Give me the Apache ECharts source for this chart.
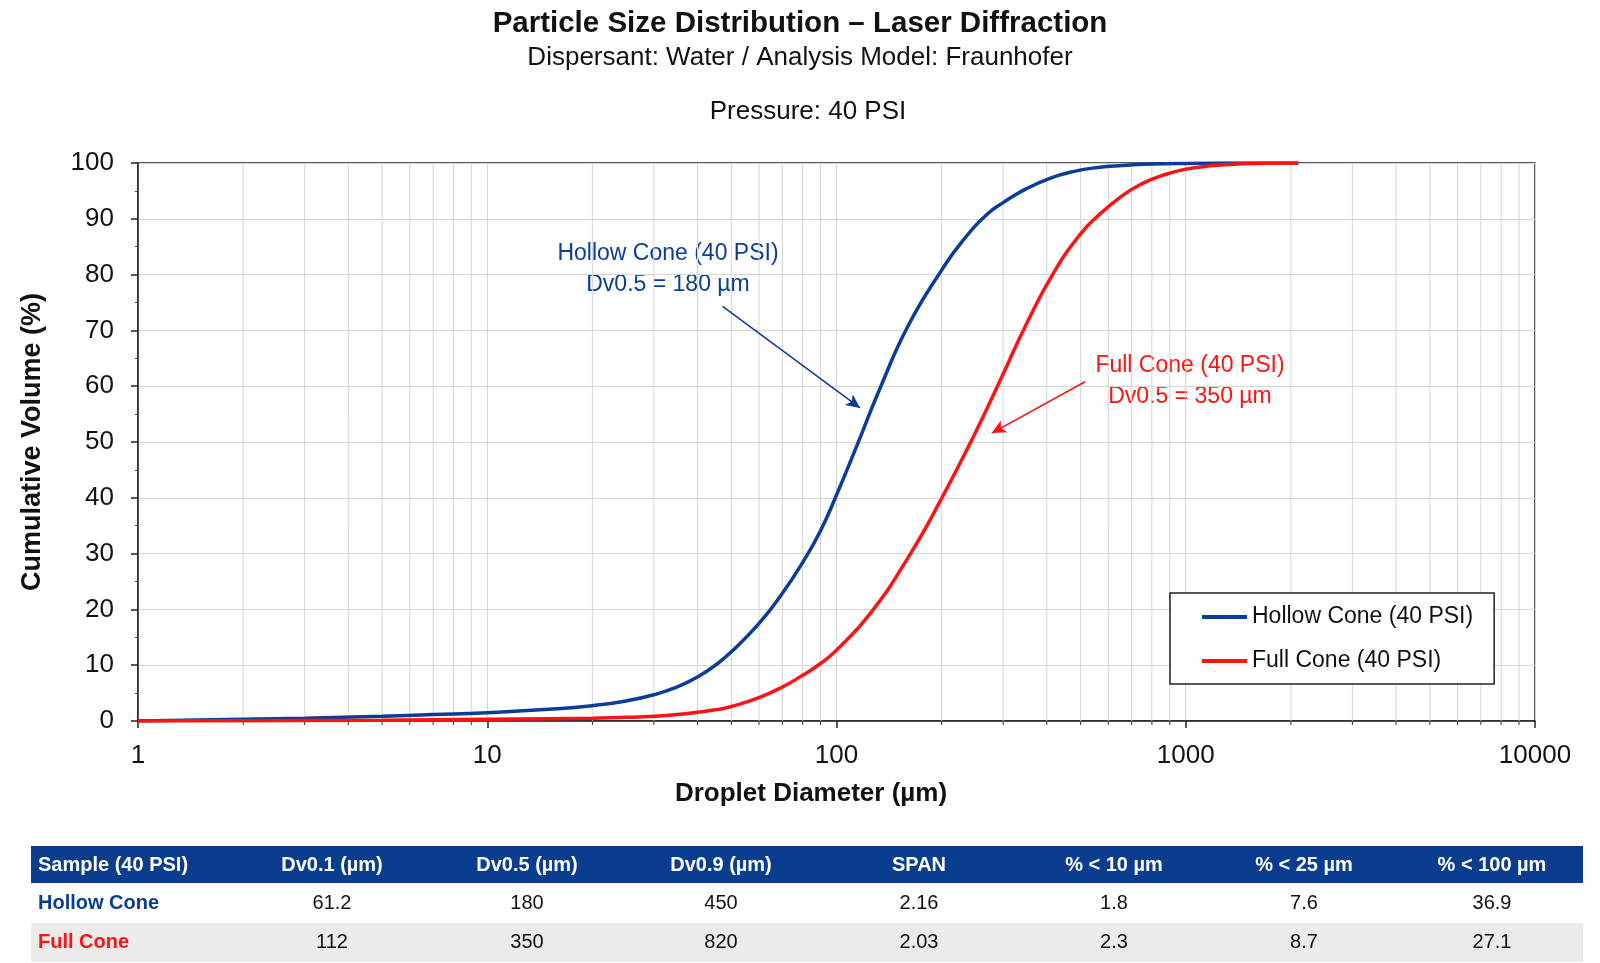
<!DOCTYPE html>
<html>
<head>
<meta charset="utf-8">
<title>Particle Size Distribution</title>
<script src="https://cdn.jsdelivr.net/npm/echarts@6/dist/echarts.min.js"></script>
<style>
  html, body { margin: 0; padding: 0; background: #fff; }
  #chart { width: 1600px; height: 963px; }
</style>
</head>
<body>
<div id="chart"></div>
<script>
// cumulative volume curves
var hollowSizes  = [1, 2, 3, 5, 7, 10, 15, 20, 25, 30, 35, 40, 45, 50, 60, 70, 80, 90, 100, 115, 133, 160, 200, 230, 270, 300, 350, 410, 475, 560, 660, 800, 1000, 1300, 2100];
var hollowVolume = [0, 0.3, 0.5, 0.85, 1.15, 1.5, 2.1, 2.75, 3.6, 4.7, 6.1, 7.9, 10, 12.4, 17.5, 22.9, 28.4, 34.1, 40.5, 49.7, 59.5, 70.7, 80.8, 86.1, 90.8, 92.9, 95.4, 97.3, 98.45, 99.2, 99.55, 99.8, 99.93, 100, 100];

var fullSizes  = [1, 2, 5, 10, 15, 20, 25, 30, 35, 40, 45, 50, 60, 70, 80, 90, 100, 125, 160, 200, 250, 300, 350, 420, 500, 560, 660, 750, 850, 1000, 1200, 1450, 1750, 2100];
var fullVolume = [0, 0.05, 0.15, 0.3, 0.4, 0.5, 0.65, 0.85, 1.15, 1.55, 2, 2.6, 4.2, 6.1, 8.2, 10.3, 12.7, 19.3, 29.2, 39.9, 51.7, 62.2, 71.2, 80.5, 87.3, 90.5, 94.2, 96.3, 97.7, 98.9, 99.55, 99.85, 99.97, 100];

// minor log grid positions (2..9 in every decade)
var minorPositions = [2, 3, 4, 5, 6, 7, 8, 9, 20, 30, 40, 50, 60, 70, 80, 90, 200, 300, 400, 500, 600, 700, 800, 900, 2000, 3000, 4000, 5000, 6000, 7000, 8000, 9000];

// summary table
var tableHeader = ['Sample (40 PSI)', 'Dv0.1 (µm)', 'Dv0.5 (µm)', 'Dv0.9 (µm)', 'SPAN', '% < 10 µm', '% < 25 µm', '% < 100 µm'];
var hollowRow = ['Hollow Cone', '61.2', '180', '450', '2.16', '1.8', '7.6', '36.9'];
var fullRow = ['Full Cone', '112', '350', '820', '2.03', '2.3', '8.7', '27.1'];

var FONT = 'Liberation Sans, Arial, Helvetica, sans-serif';
var BLUE = '#0b3c98';
var RED = '#ff1212';
var HEAD_BLUE = '#0b3d8f';

function pairs(xs, ys) {
  return xs.map(function (x, i) { return [x, ys[i]]; });
}

// table graphics
var colX = [38, 332, 527, 721, 919, 1114, 1304, 1492];
function tableRow(cells, y, style) {
  return cells.map(function (t, i) {
    var first = i === 0;
    return {
      type: 'text',
      x: colX[i],
      y: y,
      style: {
        text: t,
        fill: first && style.firstColor ? style.firstColor : style.color,
        font: (style.bold || (first && style.firstBold) ? 'bold ' : '') + '20px ' + FONT,
        textAlign: first ? 'left' : 'center',
        textVerticalAlign: 'middle'
      }
    };
  });
}
var tableGraphics = [
  { type: 'rect', shape: { x: 31, y: 846, width: 1552, height: 37 }, style: { fill: HEAD_BLUE } },
  { type: 'rect', shape: { x: 31, y: 883, width: 1552, height: 40 }, style: { fill: '#ffffff' } },
  { type: 'rect', shape: { x: 31, y: 923, width: 1552, height: 39 }, style: { fill: '#ebebeb' } }
]
  .concat(tableRow(tableHeader, 865, { color: '#fff', bold: true }))
  .concat(tableRow(hollowRow, 903, { color: '#111', firstColor: BLUE, firstBold: true }))
  .concat(tableRow(fullRow, 942, { color: '#111', firstColor: RED, firstBold: true }));

var annotationGraphics = [
  { type: 'text', x: 668, y: 254, style: { text: 'Hollow Cone (40 PSI)', fill: BLUE, font: '23px ' + FONT, textAlign: 'center', textVerticalAlign: 'middle' } },
  { type: 'text', x: 668, y: 285, style: { text: 'Dv0.5 = 180 µm', fill: BLUE, font: '23px ' + FONT, textAlign: 'center', textVerticalAlign: 'middle' } },
  { type: 'text', x: 1190, y: 366, style: { text: 'Full Cone (40 PSI)', fill: RED, font: '23px ' + FONT, textAlign: 'center', textVerticalAlign: 'middle' } },
  { type: 'text', x: 1190, y: 397, style: { text: 'Dv0.5 = 350 µm', fill: RED, font: '23px ' + FONT, textAlign: 'center', textVerticalAlign: 'middle' } }
];

var chart = echarts.init(document.getElementById('chart'), null, { renderer: 'canvas' });

var option = {
  backgroundColor: '#fff',
  animation: false,
  textStyle: { fontFamily: FONT },
  title: [
    {
      text: 'Particle Size Distribution – Laser Diffraction',
      left: 'center', top: 4,
      textStyle: { fontSize: 29.5, fontWeight: 'bold', color: '#111', fontFamily: FONT }
    },
    {
      text: 'Dispersant: Water / Analysis Model: Fraunhofer',
      left: 'center', top: 40,
      textStyle: { fontSize: 26, fontWeight: 'normal', color: '#111', fontFamily: FONT }
    },
    {
      text: 'Pressure: 40 PSI',
      left: 803, top: 94, textAlign: 'center',
      textStyle: { fontSize: 26, fontWeight: 'normal', color: '#111', fontFamily: FONT }
    }
  ],
  legend: {
    data: ['Hollow Cone (40 PSI)', 'Full Cone (40 PSI)'],
    orient: 'vertical',
    left: 1170, top: 593,
    padding: [12, 21, 11, 32],
    itemGap: 20,
    itemWidth: 45, itemHeight: 4,
    icon: 'rect',
    backgroundColor: '#fff',
    borderColor: '#222', borderWidth: 1.5, borderRadius: 0,
    textStyle: { fontSize: 23, lineHeight: 24, color: '#111', fontFamily: FONT }
  },
  grid: {
    left: 138, right: 65, top: 163, bottom: 242,
    show: true, borderColor: '#222', borderWidth: 1.5, backgroundColor: '#fff'
  },
  xAxis: {
    type: 'log', logBase: 10, min: 1, max: 10000,
    name: 'Droplet Diameter (µm)',
    nameLocation: 'middle', nameGap: 60,
    nameTextStyle: { fontSize: 26, fontWeight: 'bold', color: '#111', padding: [0, 51, 0, 0] },
    axisLine: { lineStyle: { color: '#222', width: 1.5 } },
    axisTick: { show: true, length: 7, lineStyle: { color: '#222', width: 1.5 } },
    axisLabel: {
      fontSize: 26, color: '#111', margin: 22,
      formatter: function (v) { return String(v); }
    },
    splitLine: { show: true, lineStyle: { color: '#d6d6d6', width: 1 } }
  },
  yAxis: {
    type: 'value', min: 0, max: 100, interval: 10,
    name: 'Cumulative Volume (%)',
    nameLocation: 'middle', nameGap: 92, nameRotate: 90,
    nameTextStyle: { fontSize: 27, fontWeight: 'bold', color: '#111' },
    axisLine: { show: true, lineStyle: { color: '#222', width: 1.5 } },
    axisTick: { show: true, length: 7, lineStyle: { color: '#222', width: 1.5 } },
    minorTick: { show: true, splitNumber: 2, length: 3, lineStyle: { color: '#444', width: 1 } },
    axisLabel: { fontSize: 26, color: '#111', margin: 24 },
    splitLine: { show: true, lineStyle: { color: '#d6d6d6', width: 1 } }
  },
  series: [
    {
      // minor vertical grid lines + small ticks for the log axis
      type: 'custom',
      silent: true,
      z: 1,
      encode: { x: 0, y: 1 },
      data: minorPositions.map(function (v) { return [v, 0]; }),
      renderItem: function (params, api) {
        var top = api.coord([api.value(0), 100]);
        var bot = api.coord([api.value(0), 0]);
        return {
          type: 'group',
          children: [
            { type: 'line', shape: { x1: top[0], y1: top[1], x2: bot[0], y2: bot[1] }, style: { stroke: '#d6d6d6', lineWidth: 1 } },
            { type: 'line', shape: { x1: bot[0], y1: bot[1], x2: bot[0], y2: bot[1] + 4 }, style: { stroke: '#333', lineWidth: 1 } }
          ]
        };
      }
    },
    {
      name: 'Hollow Cone (40 PSI)',
      type: 'line',
      data: pairs(hollowSizes, hollowVolume),
      showSymbol: false,
      smooth: 0.5,
      z: 3,
      color: BLUE,
      lineStyle: { color: BLUE, width: 3.5 },
      markLine: {
        silent: true,
        symbol: ['none', 'arrow'],
        symbolSize: [10, 14],
        label: { show: false },
        lineStyle: { color: BLUE, width: 1.5, type: 'solid' },
        data: [[{ coord: [47.2, 74.3] }, { coord: [116.8, 56.1] }]]
      }
    },
    {
      name: 'Full Cone (40 PSI)',
      type: 'line',
      data: pairs(fullSizes, fullVolume),
      showSymbol: false,
      smooth: 0.5,
      z: 4,
      color: RED,
      lineStyle: { color: RED, width: 3.5 },
      markLine: {
        silent: true,
        symbol: ['none', 'arrow'],
        symbolSize: [10, 14],
        label: { show: false },
        lineStyle: { color: RED, width: 1.5, type: 'solid' },
        data: [[{ coord: [514.7, 60.8] }, { coord: [278.3, 51.6] }]]
      }
    }
  ],
  graphic: annotationGraphics.concat(tableGraphics)
};

chart.setOption(option);
window.addEventListener('resize', function () { chart.resize(); });
</script>
</body>
</html>
